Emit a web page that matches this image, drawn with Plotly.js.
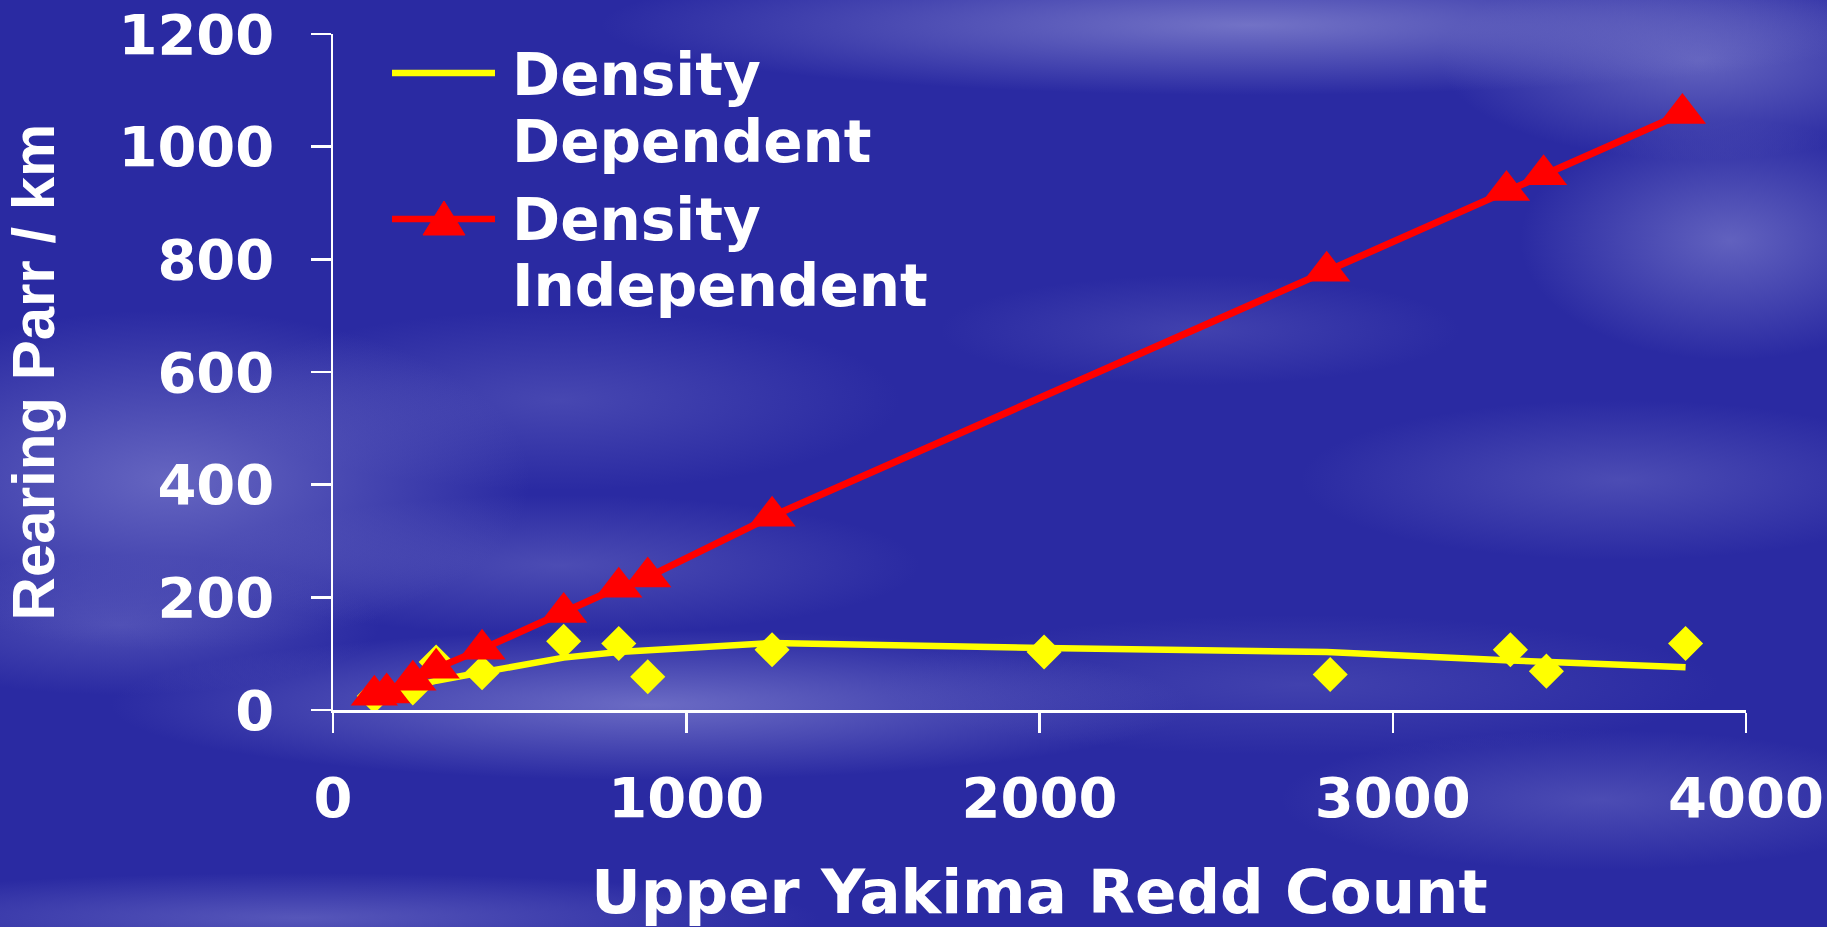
<!DOCTYPE html>
<html>
<head>
<meta charset="utf-8">
<script src="https://cdn.plot.ly/plotly-3.0.1.min.js"></script>
<style>
html, body { margin: 0; padding: 0; }
body {
  width: 1827px; height: 927px; overflow: hidden;
  background-color: #2a2aa2;
  background-image:
    radial-gradient(ellipse 360px 170px at 170px 480px, rgba(108,108,196,0.90), rgba(108,108,196,0) 100%),
    radial-gradient(ellipse 260px 70px at 120px 625px, rgba(100,100,192,0.60), rgba(100,100,192,0) 100%),
    radial-gradient(ellipse 540px 75px at 650px 705px, rgba(114,114,200,0.90), rgba(114,114,200,0) 100%),
    radial-gradient(ellipse 360px 70px at 560px 565px, rgba(104,104,194,0.55), rgba(104,104,194,0) 100%),
    radial-gradient(ellipse 340px 90px at 560px 400px, rgba(100,100,192,0.50), rgba(100,100,192,0) 100%),
    radial-gradient(ellipse 650px 70px at 1250px 25px, rgba(122,122,202,0.90), rgba(122,122,202,0) 100%),
    radial-gradient(ellipse 260px 100px at 1700px 60px, rgba(118,118,200,0.75), rgba(118,118,200,0) 100%),
    radial-gradient(ellipse 210px 120px at 1730px 240px, rgba(116,116,200,0.75), rgba(116,116,200,0) 100%),
    radial-gradient(ellipse 320px 80px at 1620px 480px, rgba(104,104,194,0.55), rgba(104,104,194,0) 100%),
    radial-gradient(ellipse 320px 70px at 1600px 800px, rgba(104,104,194,0.55), rgba(104,104,194,0) 100%),
    radial-gradient(ellipse 520px 45px at 300px 918px, rgba(110,110,198,0.65), rgba(110,110,198,0) 100%),
    radial-gradient(ellipse 260px 55px at 1200px 330px, rgba(100,100,192,0.40), rgba(100,100,192,0) 100%),
    radial-gradient(ellipse 420px 70px at 1300px 685px, rgba(100,100,192,0.40), rgba(100,100,192,0) 100%);
}
#chart { width: 1827px; height: 927px; }
</style>
</head>
<body>
<div id="chart"></div>
<script>
// ---- data ----
var diX = [117, 152, 226, 292, 422, 653, 809, 891, 1243, 2813, 3322, 3427, 3820];
var diY = [26, 30, 53, 74, 108, 173, 218, 236, 344, 779, 922, 950, 1059];

var ddLineX = [117, 226, 292, 422, 653, 809, 891, 1243, 2013, 2813, 3333, 3435, 3829];
var ddLineY = [22, 40, 52, 67, 93, 103, 106, 119, 110, 103, 88, 86, 76];

var ddObsX = [117, 226, 292, 422, 653, 809, 891, 1243, 2013, 2823, 3333, 3435, 3829];
var ddObsY = [25, 39, 85, 66, 122, 118, 59, 107, 103, 63, 107, 69, 118];

var xTicks = [0, 1000, 2000, 3000, 4000];
var yTicks = [0, 200, 400, 600, 800, 1000, 1200];

var legendNames = [["Density", "Dependent"], ["Density", "Independent"]];

// ---- layout geometry ----
var W = 1827, H = 927;
var M = {l: 333, r: 81, t: 34, b: 217};
var PW = W - M.l - M.r, PH = H - M.t - M.b;
function px(x) { return (x - M.l) / PW; }
function py(y) { return (H - M.b - y) / PH; }

var YELLOW = '#ffff00', RED = '#ff0000', WHITE = '#ffffff';
var legendFont = {family: 'DejaVu Sans, sans-serif', size: 58, color: WHITE, weight: 'bold'};

var traces = [
  {x: ddLineX, y: ddLineY, type: 'scatter', mode: 'lines', name: 'Density Dependent',
   line: {color: YELLOW, width: 6.5}},
  {x: ddObsX, y: ddObsY, type: 'scatter', mode: 'markers', name: 'Observed',
   marker: {symbol: 'diamond', size: 27, color: YELLOW, line: {width: 0}}},
  {x: diX, y: diY, type: 'scatter', mode: 'lines+markers', name: 'Density Independent',
   line: {color: RED, width: 7},
   marker: {symbol: 'triangle-up', size: 41, color: RED, line: {width: 0}}}
];

var annotations = [];
var baselines = [[95, 161.7], [240, 306]];
for (var i = 0; i < legendNames.length; i++) {
  for (var j = 0; j < 2; j++) {
    annotations.push({
      xref: 'paper', yref: 'paper', x: px(510), y: py(baselines[i][j] - 20),
      xanchor: 'left', yanchor: 'middle', showarrow: false, align: 'left',
      text: '<b>' + legendNames[i][j] + '</b>', font: legendFont
    });
  }
}

var shapes = [
  {type: 'line', xref: 'paper', yref: 'paper', x0: px(392), x1: px(495), y0: py(73), y1: py(73),
   line: {color: YELLOW, width: 6.5}},
  {type: 'line', xref: 'paper', yref: 'paper', x0: px(392), x1: px(495), y0: py(219), y1: py(219),
   line: {color: RED, width: 6.5}},
  {type: 'path', xref: 'paper', yref: 'paper', fillcolor: RED, line: {color: RED, width: 1},
   path: 'M' + px(444) + ',' + py(201) + ' L' + px(465) + ',' + py(235) + ' L' + px(423) + ',' + py(235) + ' Z'}
];

var tickFont = {family: 'DejaVu Sans, sans-serif', size: 56, color: WHITE, weight: 'bold'};

var layout = {
  width: W, height: H,
  margin: M,
  paper_bgcolor: 'rgba(0,0,0,0)', plot_bgcolor: 'rgba(0,0,0,0)',
  showlegend: false,
  xaxis: {
    range: [0, 4000], tickvals: xTicks, ticktext: xTicks.map(String),
    showgrid: false, zeroline: false, showline: true, linecolor: WHITE, linewidth: 2.5,
    ticks: 'outside', ticklen: 20, tickwidth: 2.5, tickcolor: WHITE,
    ticklabelstandoff: 17, tickfont: tickFont,
    title: {text: '<b>Upper Yakima Redd Count</b>', standoff: 63,
            font: {family: 'DejaVu Sans, sans-serif', size: 61, color: WHITE}},
    automargin: false, fixedrange: true
  },
  yaxis: {
    range: [0, 1200], tickvals: yTicks, ticktext: yTicks.map(String),
    showgrid: false, zeroline: false, showline: true, linecolor: WHITE, linewidth: 2.5,
    ticks: 'outside', ticklen: 20, tickwidth: 2.5, tickcolor: WHITE,
    ticklabelstandoff: 25, tickfont: tickFont,
    title: {text: '<b>Rearing Parr / km</b>', standoff: 46,
            font: {family: 'Liberation Sans, Arial, sans-serif', size: 60, color: WHITE}},
    automargin: false, fixedrange: true
  },
  annotations: annotations,
  shapes: shapes
};

Plotly.newPlot('chart', traces, layout, {displayModeBar: false, staticPlot: true});
</script>
</body>
</html>
